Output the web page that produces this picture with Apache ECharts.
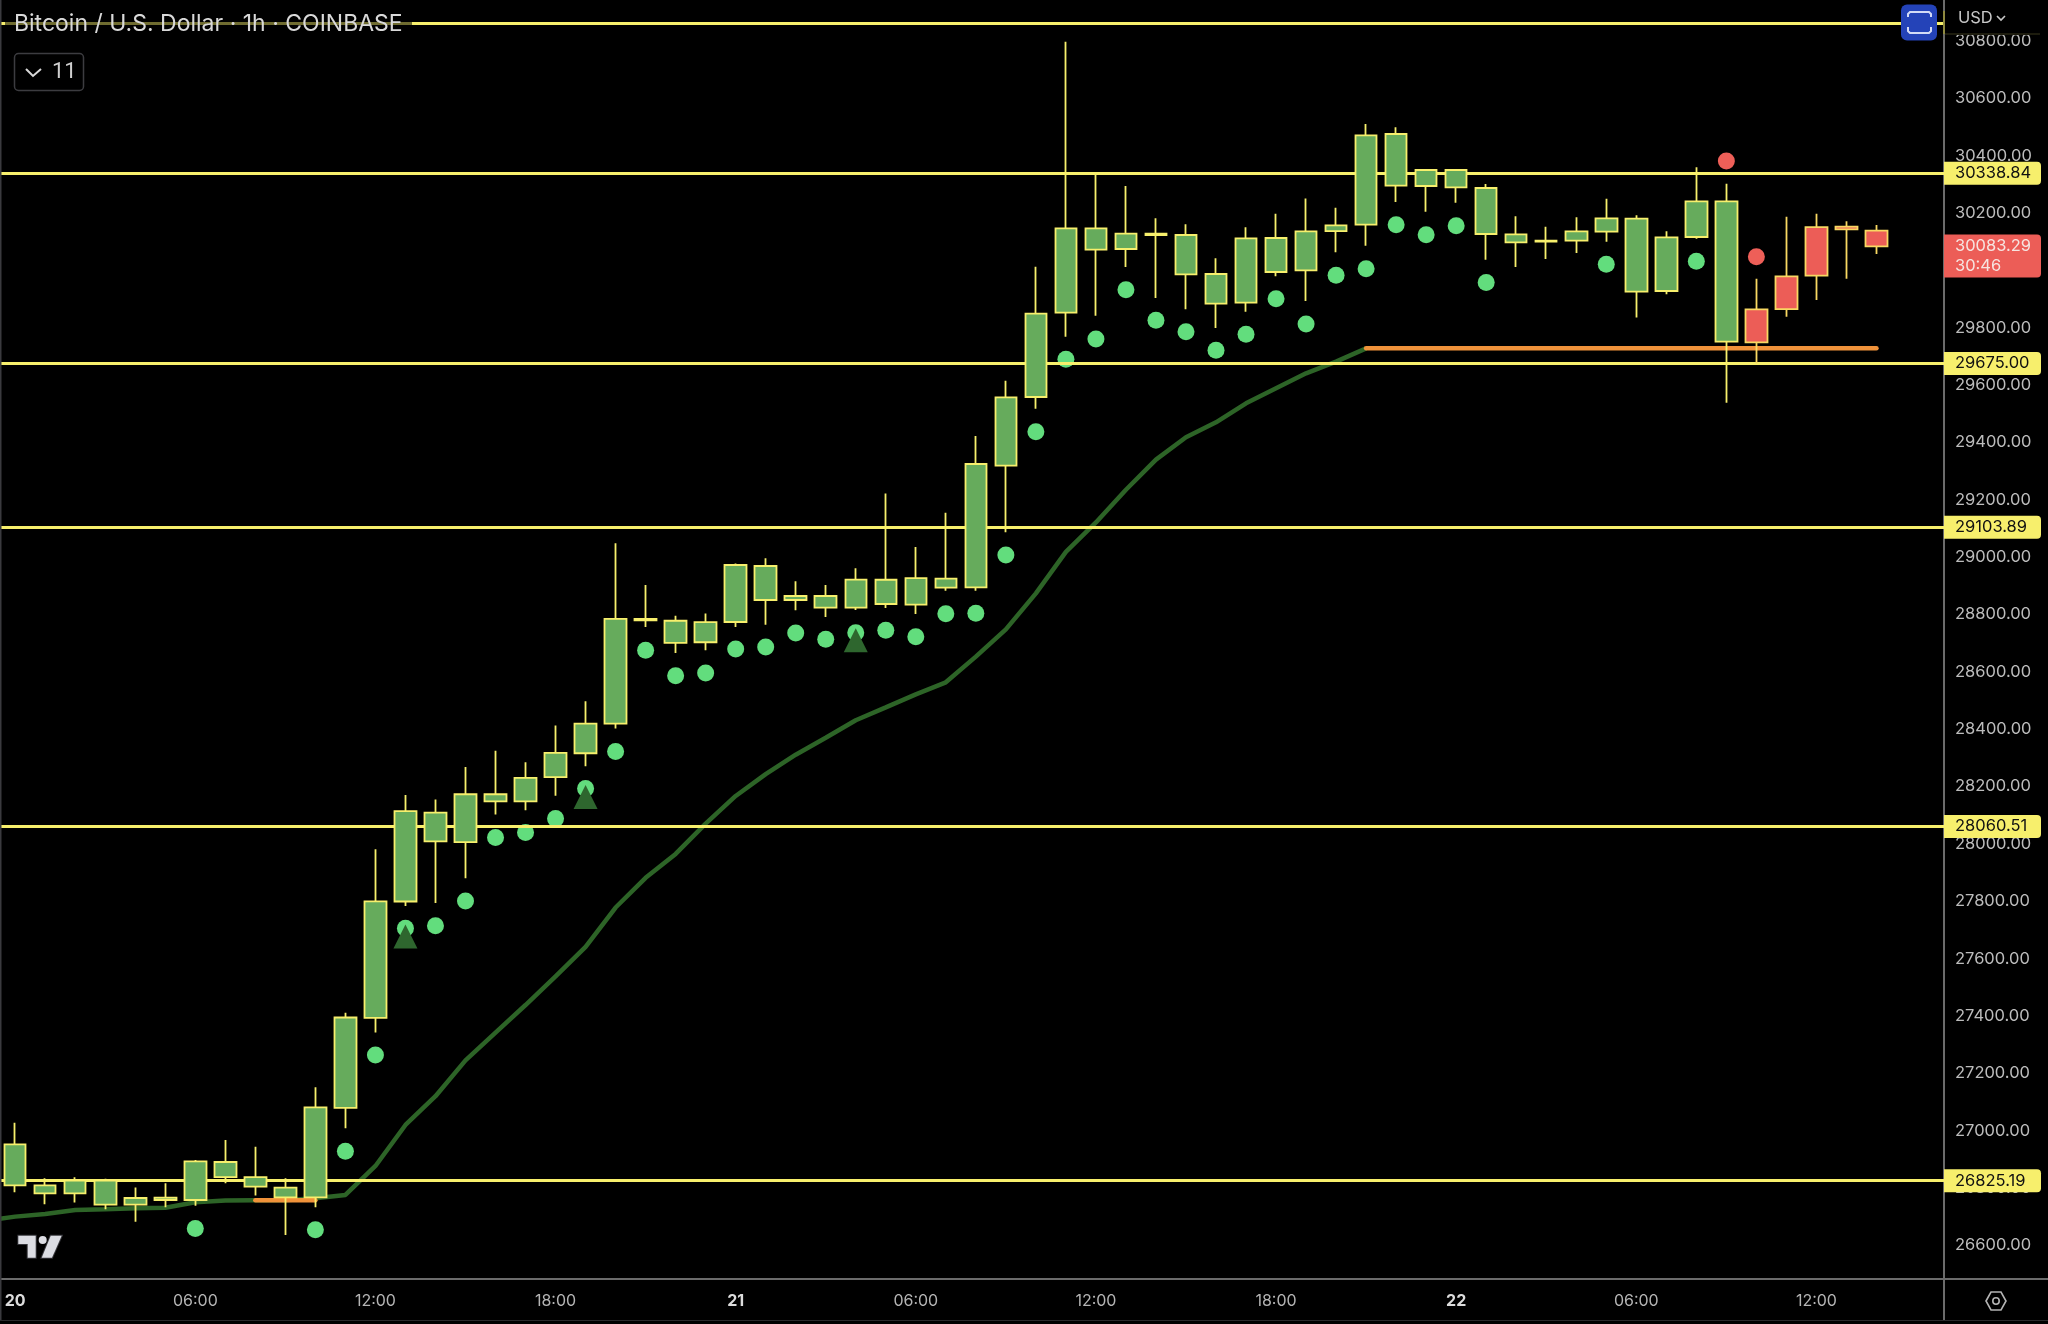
<!DOCTYPE html>
<html>
<head>
<meta charset="utf-8">
<style>html,body{margin:0;padding:0;background:#000}#c{width:2048px;height:1324px}</style>
<script src="https://cdn.jsdelivr.net/npm/echarts@6/dist/echarts.min.js"></script>
</head>
<body>
<div id="c"></div>
<script>
const title = 'Bitcoin / U.S. Dollar · 1h · COINBASE';
const currentPrice = 30083.29;
const countdown = '30:46';

// hourly candles, index 0 = day 20 00:00
const opens = [26809,26781,26781,26741.8,26741.8,26758,26758,26838,26804.5,26767,26767,27079,27393,27799,28008.5,28006,28148,28148,28233,28316,28419.5,28779.4,28701,28703,28773.7,28850.4,28850.4,28823.7,28823.7,28836.5,28834,28893.4,28894.6,29318.8,29558.4,29852.4,30072,30074.5,30123.3,29986,29883.8,29887.3,29994.3,30000,30137,30159.3,30295.3,30294.1,30289.5,30126.7,30097.7,30100,30103.5,30134.9,29925.6,29928,30116.3,29751.3,29864,29979,30151,30152.3,30138.4];
const closes = [26952,26809,26825.5,26825.5,26765,26766,26893,26890.5,26838,26801,27081,27394.5,27799.3,28114,28109,28173,28173,28230,28317.4,28419.5,28784.4,28784.4,28778,28773,28972.5,28969,28864.4,28864.4,28921.3,28921,28927,28924.8,29324.7,29557,29848.9,30146.5,30146.5,30128,30128,30123.3,29987.3,30111.7,30112.8,30136,30157,30470.9,30475.5,30349.9,30349.9,30287.2,30125.6,30103.5,30136,30181.4,30180.2,30115,30240.7,30240.7,29749,29865,29981.4,30143,30083.29];
const lows = [26785,26743,26749,26725.5,26682.5,26732.5,26738,26816,26774,26636,26732.5,27008,27342,27783,27794,27880,28102,28117,28168,28271,28402,28756,28666,28675,28756,28764.4,28814.4,28791,28815.5,28822.5,28801.6,28883,28883,29086.4,29517.7,29768.7,29842,30011.7,29903.6,29864,29799,29856,29979,29893,30062.8,30086,30238.4,30204.6,30236,30037.2,30011.7,30039.6,30060.5,30100,29836,29916.3,30110.5,29538.5,29675.7,29838.5,29896.6,29971,30057];
const highs = [27027.7,26833.6,26837,26832.4,26802,26816,26897.5,26967,26944,26833.6,27151,27410.6,27981,28170,28155,28268,28325,28285,28413,28497,29048.4,28903,28795.6,28803,28978,28995.7,28915.5,28902.7,28961,29221.5,29035.2,29155,29422.3,29615.3,30012.9,30797.5,30336,30294,30181.4,30160.5,30041.9,30150,30197.7,30251,30218.6,30510.4,30498.8,30352,30349.9,30301,30188.3,30152.3,30184.9,30250,30191.8,30136,30359.2,30302.3,29971,30187.2,30197.6,30171,30158.2];

// signal dots
const buyDots = [null,null,null,null,null,null,26659,null,null,null,26654.6,26927.8,27263.7,27705.8,27714.5,27800.5,28022,28039.6,28088,28192.8,28322.4,28674.8,28586.4,28596,28679.5,28686.5,28735.3,28713.2,28736.5,28744.6,28722.5,28802.7,28803.9,29007.3,29437.5,29689.7,29760.6,29932.7,29825.7,29786,29721,29776.9,29901,29813,29982.6,30005.9,30159.3,30124.4,30155.8,29958,null,null,null,30021,null,null,30031.4,null,null,null,null,null,null];
const sellDotHours = [57,58];
const sellDotValues = [30381.3,30047.7];

// triangle markers
const triangleHours = [13,19,28];
const triangleValues = [27677,28163,28709.8];

// moving average, hours -1..45 (starts just off the left edge)
const maFirstHour = -1;
const maValues = [26686,26700,26709,26723,26725.5,26729,26731,26750,26756,26757,26757,26764,26775.5,26876.6,27019.6,27120,27245,27342,27438,27537.7,27641,27778,27881.4,27965,28070.8,28167,28243,28311,28370,28431,28476,28521.5,28563.3,28652.8,28748,28873.7,29018,29121,29235,29340,29418,29470,29536.3,29588.6,29640.9,29681.6,29728];

// flat (orange) stretches of the moving average
const flatLeftHours = [8,10];
const flatLeftValue = 26757;
const flatRightHours = [45,62];
const flatRightValue = 29728;

// horizontal levels
const levelValues = [30338.84,29675.00,29103.89,28060.51,26825.19];
const topLevel = 30862.6;

const yTicks = [26600,26800,27000,27200,27400,27600,27800,28000,28200,28400,28600,28800,29000,29200,29400,29600,29800,30000,30200,30400,30600,30800];
const xTickHours = [0,6,12,18,24,30,36,42,48,54,60];
const xTickLabels = ['20','06:00','12:00','18:00','21','06:00','12:00','18:00','22','06:00','12:00'];

const FONT = 'Inter, "Noto Sans", sans-serif';
const YEL = '#f7ef6c';

const candles = opens.map((o, i) => [i, o, closes[i], lows[i], highs[i]]);
const buyData = buyDots.map((v, i) => [i, v]).filter(d => d[1] !== null);
const sellData = sellDotHours.map((h, i) => [h, sellDotValues[i]]);
const triData = triangleHours.map((h, i) => [h, triangleValues[i]]);
const maData = maValues.map((v, i) => [i + maFirstHour, v]);

const chart = echarts.init(document.getElementById('c'), null, {width: 2048, height: 1324});

function levelLine(v) {
  return {
    yAxis: v,
    label: {
      show: true, position: 'end', distance: 0, formatter: v.toFixed(2),
      color: '#111', fontFamily: FONT, fontSize: 16.5,
      backgroundColor: YEL, borderRadius: [0, 4, 4, 0],
      width: 85, height: 23, lineHeight: 23, padding: [0, 1, 0, 11], align: 'left', verticalAlign: 'middle'
    }
  };
}

const line = (x1, y1, x2, y2, stroke, w) => ({type: 'line', silent: true, z: 100,
  shape: {x1, y1, x2, y2}, style: {stroke, lineWidth: w}});
const txt = (text, x, y, font, fill, align) => ({type: 'text', silent: true, z: 101,
  x, y, style: {text, font, fill, align: align || 'left', verticalAlign: 'middle', textAlign: align || 'left', textVerticalAlign: 'middle'}});

chart.setOption({
  animation: false,
  backgroundColor: '#000',
  grid: {left: 0, right: 104, top: 0, bottom: 45},
  xAxis: {
    type: 'value', min: -0.506, max: 64.25, splitLine: {show: false},
    axisLine: {show: true, onZero: false, lineStyle: {color: '#6b6b6b', width: 2}},
    axisTick: {show: false},
    axisLabel: {
      customValues: xTickHours, margin: 14, fontFamily: FONT, fontSize: 16, color: '#b4b4b4',
      formatter: v => {
        const s = xTickLabels[xTickHours.indexOf(v)];
        return s.length === 2 ? '{d|' + s + '}' : s;
      },
      rich: {d: {fontFamily: FONT, fontSize: 16, fontWeight: 'bold', color: '#dcdcdc'}}
    }
  },
  yAxis: {
    type: 'value', position: 'right', min: 26482.5, max: 30942.8, splitLine: {show: false},
    axisLine: {show: true, onZero: false, lineStyle: {color: '#6b6b6b', width: 2}},
    axisTick: {show: false},
    axisLabel: {customValues: yTicks, margin: 11, padding: [3, 0, 0, 0], fontFamily: FONT, fontSize: 16.5, color: '#bcbcbc', formatter: v => v.toFixed(2)}
  },
  series: [
    {type: 'line', name: 'MA', z: 1, data: maData, showSymbol: false, symbol: 'none', silent: true,
      lineStyle: {color: '#2d6427', width: 4.5}},
    {type: 'line', name: 'flat-left', z: 1.5, data: flatLeftHours.map(h => [h, flatLeftValue]), symbol: 'none', silent: true,
      lineStyle: {color: '#f0923a', width: 4.5, cap: 'round'}},
    {type: 'line', name: 'flat-right', z: 1.5, data: flatRightHours.map(h => [h, flatRightValue]), symbol: 'none', silent: true,
      lineStyle: {color: '#f0923a', width: 4.5, cap: 'round'}},
    {type: 'scatter', name: 'buy', z: 1, data: buyData, symbol: 'circle', symbolSize: 17, silent: true,
      itemStyle: {color: '#62dd7d', opacity: 1}},
    {type: 'scatter', name: 'sell', z: 1, data: sellData, symbol: 'circle', symbolSize: 17, silent: true,
      itemStyle: {color: '#ee5f58', opacity: 1}},
    {type: 'scatter', name: 'tri', z: 1.2, data: triData, symbol: 'triangle', symbolSize: [24, 24], silent: true,
      itemStyle: {color: '#2e662e', opacity: 1}},
    {type: 'line', name: 'levels', z: 2, data: [], silent: true,
      markLine: {
        z: 2, silent: true, symbol: 'none', animation: false, precision: 2,
        lineStyle: {color: YEL, width: 3, type: 'solid'},
        emphasis: {disabled: true},
        data: [{yAxis: topLevel, label: {show: false}}].concat(levelValues.map(levelLine))
      }},
    {type: 'candlestick', name: 'price', z: 3, data: candles, barWidth: 22, silent: true,
      itemStyle: {color: '#66ab5c', color0: '#ec5d57', borderColor: YEL, borderColor0: '#f8d862', borderWidth: 1.8}},
    {type: 'line', name: 'last', z: 4, data: [], silent: true,
      markLine: {
        z: 6, silent: true, symbol: 'none', animation: false,
        lineStyle: {color: 'rgba(0,0,0,0)', width: 0},
        data: [{
          yAxis: currentPrice,
          label: {
            show: true, position: 'end', distance: 0, offset: [0, 9.5],
            formatter: currentPrice.toFixed(2) + '\n' + countdown,
            color: '#f6e4e0', fontFamily: FONT, fontSize: 16.5, lineHeight: 19.5,
            backgroundColor: '#ec5d57', borderRadius: [0, 4, 4, 0],
            width: 85, padding: [2, 1, 2, 11], align: 'left', verticalAlign: 'middle'
          }
        }]
      }}
  ],
  graphic: [
    // dimming behind the title
    {type: 'rect', silent: true, z: 100, shape: {x: 5, y: 10, width: 407, height: 28}, style: {fill: 'rgba(0,0,0,0.55)'}},
    txt(title, 14, 24, '23px ' + FONT, '#d9d9d9'),
    // legend collapse button
    {type: 'rect', silent: true, z: 100, shape: {x: 14.5, y: 53.5, width: 69, height: 37, r: 4}, style: {fill: 'none', stroke: '#3c3c40', lineWidth: 1.5}},
    {type: 'polyline', silent: true, z: 101, shape: {points: [[26, 69], [33, 76], [41, 69]]}, style: {fill: 'none', stroke: '#d9d9d9', lineWidth: 2}},
    txt('11', 52, 72, '22px Roboto, ' + FONT, '#cfcfcf'),
    // top right cover and currency
    {type: 'rect', silent: true, z: 100, shape: {x: 1945, y: 0, width: 103, height: 35}, style: {fill: '#000'}},
    line(1945, 34, 2040, 34, '#3a381c', 1),
    line(1944, 11, 1944, 34, '#8f8a40', 2),
    txt('USD', 1958, 18, '16.5px ' + FONT, '#c8c8c8'),
    {type: 'polyline', silent: true, z: 101, shape: {points: [[1997, 16], [2001, 20], [2005, 16]]}, style: {fill: 'none', stroke: '#c8c8c8', lineWidth: 1.6}},
    // blue button
    {type: 'rect', silent: true, z: 100, shape: {x: 1901, y: 4.5, width: 36, height: 36, r: 6}, style: {fill: '#2443b8'}},
    {type: 'polyline', silent: true, z: 101, shape: {points: [[1908, 17], [1908, 14], [1910, 12], [1929, 12], [1931, 14], [1931, 17]]}, style: {fill: 'none', stroke: '#d3dbf6', lineWidth: 2}},
    {type: 'polyline', silent: true, z: 101, shape: {points: [[1908, 27], [1908, 31], [1910, 33], [1929, 33], [1931, 31], [1931, 27]]}, style: {fill: 'none', stroke: '#d3dbf6', lineWidth: 2}},
    // bottom chrome
    line(1944, 1279, 2048, 1279, '#6b6b6b', 2),
    line(1944, 1279, 1944, 1320, '#6b6b6b', 2),
    line(0, 1320.5, 2048, 1320.5, '#2a2a2c', 1),
    line(0.75, 0, 0.75, 1320, '#3a3a3e', 1.5),
    // settings hexagon
    {type: 'polygon', silent: true, z: 101, shape: {points: [[1986, 1301], [1991, 1292], [2001, 1292], [2006, 1301], [2001, 1310], [1991, 1310]]}, style: {fill: 'none', stroke: '#b4b4b4', lineWidth: 1.6}},
    {type: 'circle', silent: true, z: 101, shape: {cx: 1996, cy: 1301, r: 3.2}, style: {fill: 'none', stroke: '#b4b4b4', lineWidth: 1.6}},
    // logo
    {type: 'polygon', silent: true, z: 101, shape: {points: [[18.3, 1235.7], [35.7, 1235.7], [35.7, 1257.7], [27.7, 1257.7], [27.7, 1244], [18.3, 1244]]}, style: {fill: '#dcdde3', stroke: '#35353a', lineWidth: 2, strokeFirst: true}},
    {type: 'circle', silent: true, z: 101, shape: {cx: 42.7, cy: 1240, r: 4}, style: {fill: '#dcdde3'}},
    {type: 'polygon', silent: true, z: 101, shape: {points: [[50.7, 1235.7], [61.7, 1235.7], [52, 1257.7], [41.7, 1257.7]]}, style: {fill: '#dcdde3', stroke: '#35353a', lineWidth: 2, strokeFirst: true}}
  ]
});
</script>
</body>
</html>
